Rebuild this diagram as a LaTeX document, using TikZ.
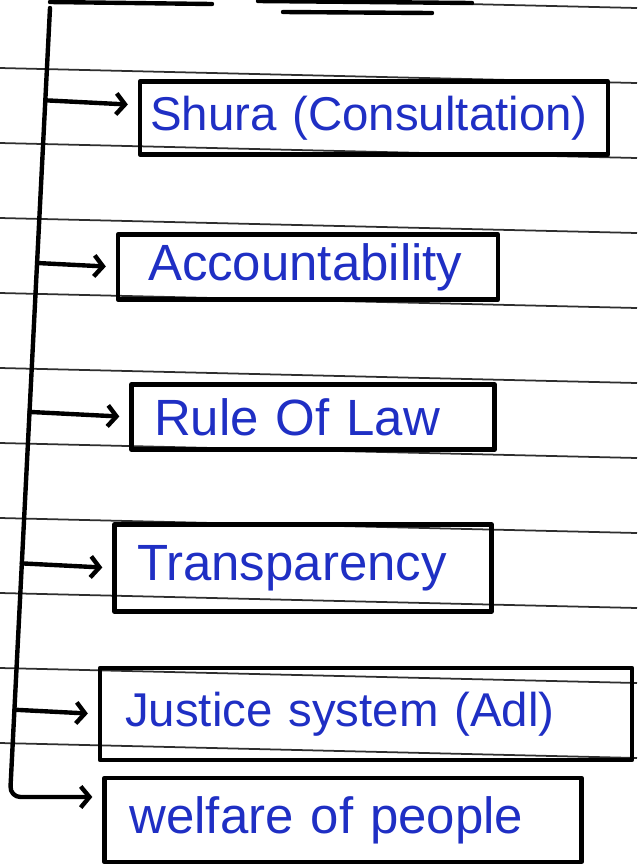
\documentclass[tikz,border=0pt]{standalone}
\usepackage{fontspec}
\setmainfont{Liberation Sans}
\usepackage{xcolor}
\usepackage{tikz}
\usetikzlibrary{arrows.meta}
\usetikzlibrary{positioning, calc}
\definecolor{inkBlue}{HTML}{1F2FC4}
\definecolor{ruleGray}{HTML}{2E2E2E}
\tikzset{>={Straight Barb[length=5pt, width=12pt]}}
\tikzset{ruled-line/.style={line width=1pt, color=ruleGray}}
\tikzset{pen-line/.style={line width=2.5pt, line cap=round, line join=round}}
\tikzset{point-box/.style={
    draw,
    pen-line,
    inner ysep=0,
    inner xsep=0.45cm,
    align=left,
    text=inkBlue,
    font=\fontsize{29}{32}\selectfont
}}
\tikzset{branch/.style={->, pen-line, shorten >=0.2cm}}

\begin{document}
\begin{tikzpicture}[x=0.02cm, y=-0.02cm]
    \useasboundingbox (0,0) rectangle (637,867);

    % notebook rules
    \foreach \k in {-1,...,9}
        \draw[ruled-line] (0,68+75*\k) -- (637,83+75*\k);

    % bottom of the box above
    \draw[pen-line] (50,2) -- (212,4);
    \draw[pen-line] (258,1) -- (472,3);
    \draw[pen-line] (283,12) -- (432,13);

    \node[point-box, inner xsep=0.2cm, text width=8.96cm, minimum height=1.46cm,
          font=\fontsize{27}{30}\selectfont] (shura) at (374,118) {Shura (Consultation)};
    \node[point-box, inner xsep=0.6cm, text width=6.4cm, minimum height=1.3cm] (account) at (308,267) {Accountability};
    \node[point-box, text width=6.36cm, minimum height=1.3cm] (rulelaw) at (313,417) {Rule Of Law};
    \node[point-box, text width=6.64cm, minimum height=1.74cm] (transp) at (303,568) {Transparency};
    \node[point-box, inner xsep=0.5cm, text width=9.64cm, minimum height=1.84cm,
          font=\fontsize{27}{30}\selectfont] (justice) at (366,714) {Justice system (Adl)};
    \node[point-box, inner xsep=0.5cm, text width=8.54cm, minimum height=1.68cm] (welfare) at (343,820) {welfare of people};

    % trunk
    \coordinate (trunk-top) at (50,8);
    \coordinate (trunk-bot) at (10,797);
    \draw[branch, rounded corners=6pt] (trunk-top) -- (trunk-bot) -- (trunk-bot -| welfare.west);

    \draw[branch] ($(trunk-top)!([yshift=0.26cm]shura.west)!(trunk-bot)$) -- ([yshift=0.26cm]shura.west);
    \draw[branch] ($(trunk-top)!(account.west)!(trunk-bot)$) -- (account.west);
    \draw[branch] ($(trunk-top)!(rulelaw.west)!(trunk-bot)$) -- (rulelaw.west);
    \draw[branch] ($(trunk-top)!(transp.west)!(trunk-bot)$) -- (transp.west);
    \draw[branch] ($(trunk-top)!(justice.west)!(trunk-bot)$) -- (justice.west);
\end{tikzpicture}
\end{document}
